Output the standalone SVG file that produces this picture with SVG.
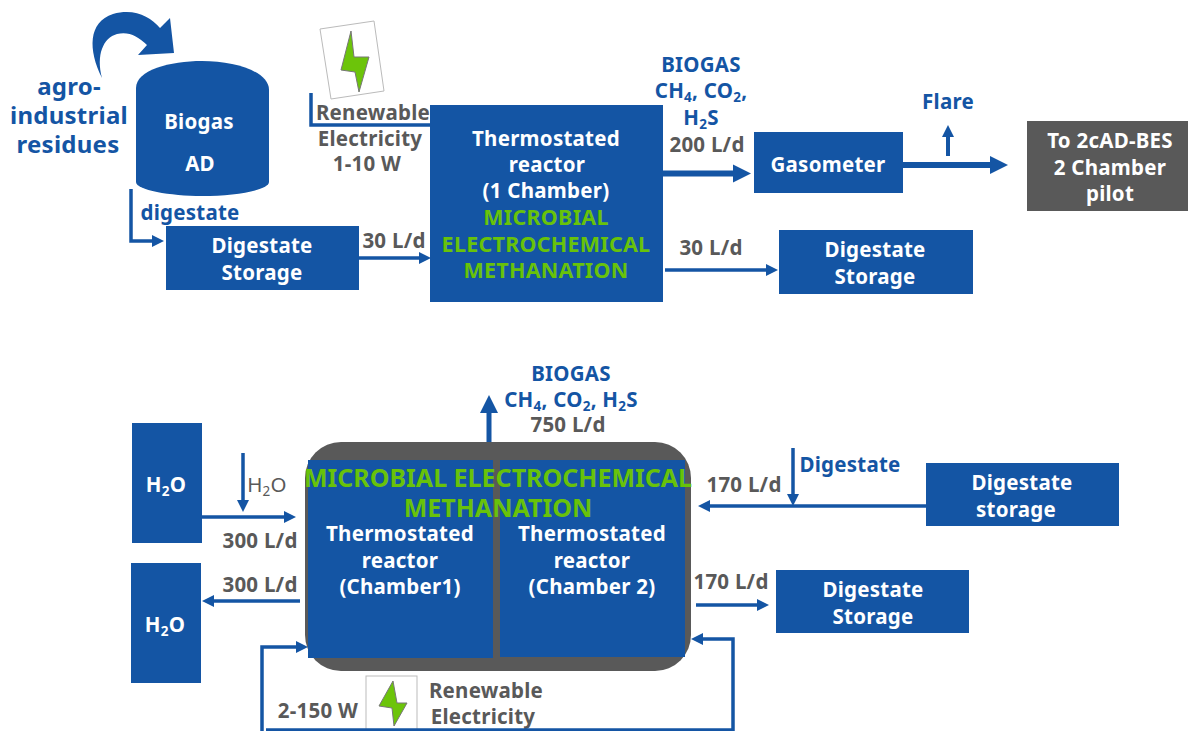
<svg xmlns="http://www.w3.org/2000/svg" width="1188" height="731" viewBox="0 0 1188 731">
<style>
text{font-family:"Noto Sans","Open Sans","DejaVu Sans",sans-serif;font-weight:700;text-anchor:middle;font-size:20.5px;letter-spacing:.25px}
.w{fill:#fff}.b{fill:#1455a4}.g{fill:#595959}.n{fill:#68c20a;font-size:21.500px}.nn{font-size:25px;letter-spacing:0}
.box{fill:#1455a4}
.c{fill:none;stroke:#1455a4;stroke-width:3.5}
.t{font-size:13.500px}
.l{font-size:24px}
</style>
<defs>
<marker id="a" markerUnits="userSpaceOnUse" markerWidth="14" markerHeight="14" refX="3" refY="7" orient="auto"><path d="M0 1L12 7L0 13Z" fill="#1455a4"/></marker>
<marker id="al" markerUnits="userSpaceOnUse" markerWidth="20" markerHeight="20" refX="3" refY="10" orient="auto"><path d="M0 1L18 10L0 19Z" fill="#1455a4"/></marker>
</defs>
<g id="feed-arrow"><path class="box" d="M102 78C88 50 88 22 113 14C135 8 150 17 160 28L170 18L174 53L138 55L147 45C138 36 128 31 117 34C103 38 96 55 102 78Z"/></g>
<g id="feed-label"><text class="b l" x="69" y="95">agro-</text><text class="b l" x="69" y="124">industrial</text><text class="b l" x="68" y="153">residues</text></g>
<g id="ad"><path class="box" d="M136 88C136 70 170 61 202 61C236 61 269 72 269 90V182C269 190 236 196 202 196C170 196 136 190 136 182Z"/><text class="w" x="199" y="129">Biogas</text><text class="w" x="200" y="171">AD</text></g>
<text class="b" x="190" y="220">digestate</text>
<g id="storage1"><rect class="box" x="166" y="226" width="193" height="64"/><text class="w" x="262" y="253">Digestate</text><text class="w" x="262" y="280">Storage</text></g>
<g id="power1"><polygon points="320,29 374,21 384,91 331,99" fill="#fff" stroke="#bbb"/><polygon points="351,31 354,57 369,57 359,92 355,72 341,70" fill="#6cc40a" stroke="#777"/><text class="g" x="373" y="120">Renewable</text><text class="g" x="370" y="146">Electricity</text><text class="g" x="367" y="171">1-10 W</text></g>
<g id="reactor1"><rect class="box" x="430" y="105" width="233" height="197"/><text class="w" x="546" y="146">Thermostated</text><text class="w" x="547" y="172">reactor</text><text class="w" x="546" y="198">(1 Chamber)</text><text class="n" x="546" y="225">MICROBIAL</text><text class="n" x="546" y="252">ELECTROCHEMICAL</text><text class="n" x="546" y="278">METHANATION</text></g>
<text class="b" x="701" y="72">BIOGAS</text>
<text class="b" x="701" y="98">CH<tspan class="t" dy="4">4</tspan><tspan dy="-4">, CO</tspan><tspan class="t" dy="4">2</tspan><tspan dy="-4">,</tspan></text>
<text class="b" x="701" y="125">H<tspan class="t" dy="4">2</tspan><tspan dy="-4">S</tspan></text>
<text class="g" x="707" y="152">200 L/d</text>
<text class="g" x="394" y="248">30 L/d</text>
<text class="g" x="711" y="255">30 L/d</text>
<g id="gasometer"><rect class="box" x="754" y="132" width="149" height="61"/><text class="w" x="828" y="172">Gasometer</text></g>
<text class="b" x="948" y="109">Flare</text>
<g id="pilot"><rect x="1027" y="121" width="161" height="90" fill="#595959"/><text class="w" x="1110" y="148">To 2cAD-BES</text><text class="w" x="1110" y="175">2 Chamber</text><text class="w" x="1110" y="201">pilot</text></g>
<g id="storage2"><rect class="box" x="779" y="230" width="194" height="64"/><text class="w" x="875" y="257">Digestate</text><text class="w" x="875" y="284">Storage</text></g>
<text class="b" x="571" y="381">BIOGAS</text>
<text class="b" x="571" y="407">CH<tspan class="t" dy="4">4</tspan><tspan dy="-4">, CO</tspan><tspan class="t" dy="4">2</tspan><tspan dy="-4">, H</tspan><tspan class="t" dy="4">2</tspan><tspan dy="-4">S</tspan></text>
<text class="g" x="568" y="432">750 L/d</text>
<g id="h2o1"><rect class="box" x="132" y="423" width="70" height="120"/><text class="w" x="166" y="492">H<tspan class="t" dy="4">2</tspan><tspan dy="-4">O</tspan></text></g>
<g id="h2o2"><rect class="box" x="131" y="563" width="70" height="120"/><text class="w" x="165" y="632">H<tspan class="t" dy="4">2</tspan><tspan dy="-4">O</tspan></text></g>
<text class="g" style="font-weight:400" x="267" y="492">H<tspan class="t" dy="4">2</tspan><tspan dy="-4">O</tspan></text>
<text class="g" x="260" y="548">300 L/d</text>
<text class="g" x="260" y="592">300 L/d</text>
<g id="reactor2"><rect x="305" y="442" width="386" height="229" rx="36" fill="#595959"/><rect class="box" x="308" y="460" width="185" height="198"/><rect class="box" x="500" y="460" width="185" height="197"/>
<text class="n nn" x="498" y="487">MICROBIAL ELECTROCHEMICAL</text><text class="n nn" x="498" y="517">METHANATION</text>
<text class="w" x="400" y="541">Thermostated</text><text class="w" x="400" y="568">reactor</text><text class="w" x="400" y="594">(Chamber1)</text>
<text class="w" x="592" y="541">Thermostated</text><text class="w" x="592" y="568">reactor</text><text class="w" x="592" y="594">(Chamber 2)</text></g>
<text class="b" x="850" y="472">Digestate</text>
<text class="g" x="744" y="492">170 L/d</text>
<text class="g" x="731" y="589">170 L/d</text>
<g id="storage3"><rect class="box" x="926" y="463" width="193" height="63"/><text class="w" x="1022" y="490">Digestate</text><text class="w" x="1016" y="517">storage</text></g>
<g id="storage4"><rect class="box" x="776" y="570" width="193" height="63"/><text class="w" x="873" y="597">Digestate</text><text class="w" x="873" y="624">Storage</text></g>
<g id="power2"><rect x="366" y="676" width="51" height="54" fill="#fff" stroke="#bbb"/><polygon points="393,681 397,703 407,703 394,726 392,708 379,706" fill="#6cc40a" stroke="#777"/></g>
<text class="g" x="318" y="718">2-150 W</text>
<text class="g" x="486" y="698">Renewable</text>
<text class="g" x="483" y="724">Electricity</text>
<g id="connectors">
<path d="M131 189V241H155" class="c" marker-end="url(#a)"/>
<path d="M311 93V125H430" class="c"/>
<path d="M359 258H422" class="c" marker-end="url(#a)"/>
<path d="M663 173.500H736" class="c" style="stroke-width:6" marker-end="url(#al)"/>
<path d="M903 165H993" class="c" style="stroke-width:6" marker-end="url(#al)"/>
<path d="M948 156V134" class="c" style="stroke-width:4" marker-end="url(#a)"/>
<path d="M665 270H769" class="c" marker-end="url(#a)"/>
<path d="M202 517H287" class="c" marker-end="url(#a)"/>
<path d="M243 453V503" class="c" marker-end="url(#a)"/>
<path d="M300 601H211" class="c" marker-end="url(#a)"/>
<path d="M489 442V410" class="c" style="stroke-width:5" marker-end="url(#al)"/>
<path d="M926 506H707" class="c" marker-end="url(#a)"/>
<path d="M793 448V497" class="c" marker-end="url(#a)"/>
<path d="M696 605H760" class="c" marker-end="url(#a)"/>
<path d="M262 731V647H299" class="c" marker-end="url(#a)"/>
<path d="M266 730H733V639H700" class="c" marker-end="url(#a)"/>
</g>
</svg>
